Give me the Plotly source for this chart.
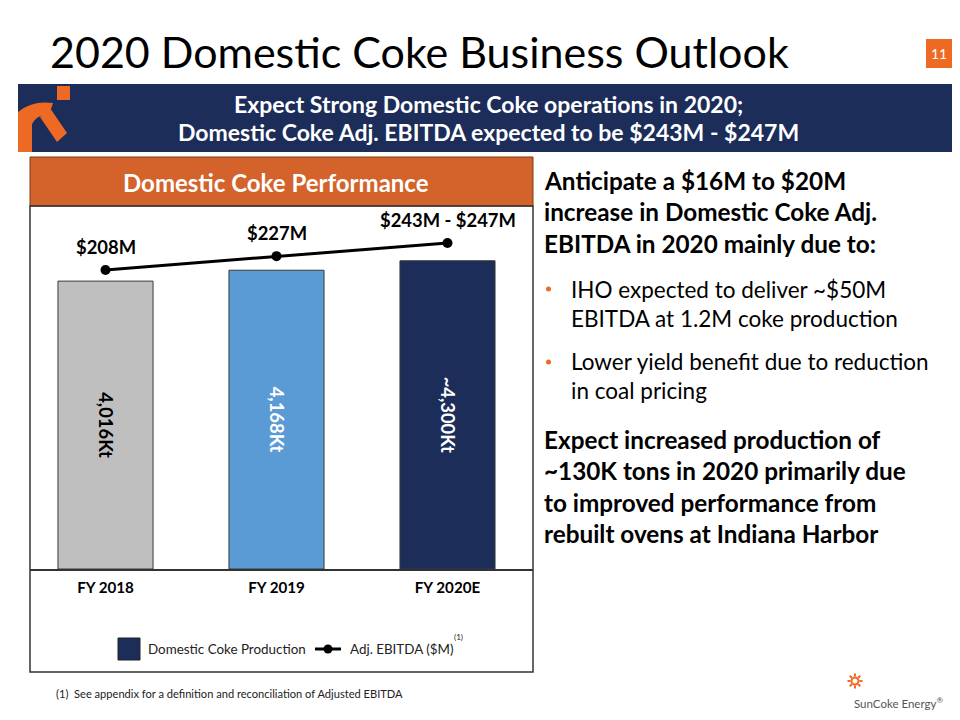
import math
import plotly.graph_objects as go

# ---------------- data ----------------
years = ["FY 2018", "FY 2019", "FY 2020E"]
production_kt = [4016, 4168, 4300]
production_labels = ["4,016Kt", "4,168Kt", "~4,300Kt"]
ebitda_musd = [208, 227, 245]
ebitda_labels = ["$208M", "$227M", "$243M - $247M"]

NAVY = "#1C2D5A"
ORANGE = "#D4622B"
ORANGE2 = "#EE6A24"
GRAY = "#BFBFBF"
BLUE = "#5B9BD5"
FONT = "Lato"

# the page body has an 8px margin; the figure fills the rest of the 960x720 window
OFF = 8
W, H = 960 - OFF, 720 - OFF


def px(x):
    return (x - OFF) / W


def py(y):
    return 1 - (y - OFF) / H


def P(x, y):
    return f"{px(x):.5f},{py(y):.5f}"


shapes = []
annotations = []


def rect(x0, y0, x1, y1, fill, line="rgba(0,0,0,0)", lw=0, layer="below"):
    shapes.append(dict(type="rect", xref="paper", yref="paper",
                       x0=px(x0), x1=px(x1), y0=py(y1), y1=py(y0),
                       fillcolor=fill, line=dict(color=line, width=lw), layer=layer))


def text(x, y, s, size, color="black", xanchor="left", bold=False, yanchor="middle"):
    annotations.append(dict(xref="paper", yref="paper", x=px(x), y=py(y), text=s,
                            showarrow=False, xanchor=xanchor, yanchor=yanchor,
                            font=dict(family=FONT, size=size, color=color,
                                      weight="bold" if bold else "normal")))


fig = go.Figure()

fig.add_trace(go.Bar(
    x=years, y=production_kt, width=0.556,
    marker=dict(color=[GRAY, BLUE, NAVY], line=dict(color="#3a3a3a", width=1)),
    text=production_labels, textposition="inside", insidetextanchor="middle",
    textangle=90, constraintext="none",
    textfont=dict(family=FONT, size=18.4, color=["black", "white", "white"], weight="bold"),
    showlegend=False, hoverinfo="skip", cliponaxis=False,
))

fig.add_trace(go.Scatter(
    x=years, y=ebitda_musd, yaxis="y2", mode="lines+markers",
    line=dict(color="black", width=3), marker=dict(color="black", size=10),
    showlegend=False, hoverinfo="skip", cliponaxis=False,
))

for xc, v, lab in zip(years, ebitda_musd, ebitda_labels):
    annotations.append(dict(x=xc, y=v, xref="x", yref="y2", yshift=23, text=lab,
                            showarrow=False, xanchor="center", yanchor="middle",
                            font=dict(family=FONT, size=18.4, color="black", weight="bold")))

# ---------------- slide decoration ----------------
# title
text(48, 51, "2020 Domestic Coke Business Outlook", 43, "black")
# page number
rect(926, 39, 952, 68, ORANGE2)
text(939, 53.5, "11", 14, "white", xanchor="center")

# banner
rect(18, 84, 960, 152, NAVY)
text(488, 104, "Expect Strong Domestic Coke operations in 2020;", 23, "white", xanchor="center", bold=True)
text(488, 132, "Domestic Coke Adj. EBITDA expected to be $243M - $247M", 23, "white", xanchor="center", bold=True)
# banner logo
rect(57, 86, 70, 100, ORANGE2)
shapes.append(dict(type="path", xref="paper", yref="paper", fillcolor=ORANGE2, line=dict(width=0),
                   path=f"M{P(18,152)} L{P(18,112)} Q{P(32,100)} {P(53,103)} L{P(49,115)} "
                        f"Q{P(37,114)} {P(32,124)} L{P(32,152)} Z"))
shapes.append(dict(type="path", xref="paper", yref="paper", fillcolor=ORANGE2, line=dict(width=0),
                   path=f"M{P(40,117)} L{P(50,108)} L{P(67,133)} L{P(57,142)} Z"))

# orange header of chart panel
rect(30, 157, 533, 206, ORANGE, "#7a3a18", 1)
text(276, 182, "Domestic Coke Performance", 24, "white", xanchor="center", bold=True)
# chart panel frame
rect(30, 206, 533, 672, "rgba(0,0,0,0)", "#333333", 1.5)

# legend (drawn by hand)
rect(118, 638, 140, 660, NAVY, "#222222", 1)
text(146, 649, "Domestic Coke Production", 13.4, "#222222")
shapes.append(dict(type="line", xref="paper", yref="paper", x0=px(315), x1=px(341), y0=py(649), y1=py(649),
                   line=dict(color="black", width=3)))
shapes.append(dict(type="circle", xref="paper", yref="paper", x0=px(323.5), x1=px(332.5),
                   y0=py(653.5), y1=py(644.5), fillcolor="black", line=dict(color="black", width=0)))
text(348, 649, "Adj. EBITDA ($M)", 13.4, "#222222")
text(452, 637, "(1)", 8, "#222222")

# footnote
text(54, 693, "(1)  See appendix for a definition and reconciliation of Adjusted EBITDA", 11.1, "#222222")

# right side text
bold_lines1 = ["Anticipate a $16M to $20M", "increase in Domestic Coke Adj.", "EBITDA in 2020 mainly due to:"]
for yy, s in zip([181, 212, 243], bold_lines1):
    text(542, yy, s, 24.3, "black", bold=True)
bullets = [("IHO expected to deliver ~$50M", 289), ("EBITDA at 1.2M coke production", 318),
           ("Lower yield benefit due to reduction", 362), ("in coal pricing", 390)]
for s, yy in bullets:
    text(569, yy, s, 22.5, "black")
for yy in [289, 362]:
    shapes.append(dict(type="circle", xref="paper", yref="paper", x0=px(546), x1=px(551),
                       y0=py(yy + 2.5), y1=py(yy - 2.5), fillcolor=ORANGE2, line=dict(width=0)))
bold_lines2 = ["Expect increased production of", "~130K tons in 2020 primarily due",
               "to improved performance from", "rebuilt ovens at Indiana Harbor"]
for yy, s in zip([439, 470, 502, 533], bold_lines2):
    text(542, yy, s, 24.3, "black", bold=True)

# SunCoke logo
cx, cy = 855, 681
shapes.append(dict(type="circle", xref="paper", yref="paper", x0=px(cx - 3.5), x1=px(cx + 3.5),
                   y0=py(cy + 3.5), y1=py(cy - 3.5), line=dict(color=ORANGE2, width=2)))
for k in range(8):
    a = k * math.pi / 4
    shapes.append(dict(type="line", xref="paper", yref="paper",
                       x0=px(cx + 4.5 * math.cos(a)), y0=py(cy + 4.5 * math.sin(a)),
                       x1=px(cx + 7.5 * math.cos(a)), y1=py(cy + 7.5 * math.sin(a)),
                       line=dict(color=ORANGE2, width=2)))
text(852, 702, "SunCoke Energy<sup>®</sup>", 11.5, "#555555")

# ---------------- layout ----------------
x_dom = [px(30), px(533)]
y_dom = [py(569), py(207)]
fig.update_layout(
    width=W, height=H, margin=dict(l=0, r=0, t=0, b=0),
    paper_bgcolor="white", plot_bgcolor="white",
    font=dict(family=FONT),
    xaxis=dict(domain=x_dom, range=[-0.4415, 2.5], showline=True, linecolor="#333333", linewidth=1.5,
               ticks="", showgrid=False, zeroline=False, ticklabelstandoff=4,
               tickfont=dict(family=FONT, size=15.2, color="black", weight="bold")),
    yaxis=dict(domain=y_dom, range=[0, 5050], visible=False, showgrid=False, zeroline=False),
    yaxis2=dict(overlaying="y", range=[-201.6, 294.3], visible=False, showgrid=False, zeroline=False),
    shapes=shapes, annotations=annotations, showlegend=False,
)

fig.write_html("out.html")
